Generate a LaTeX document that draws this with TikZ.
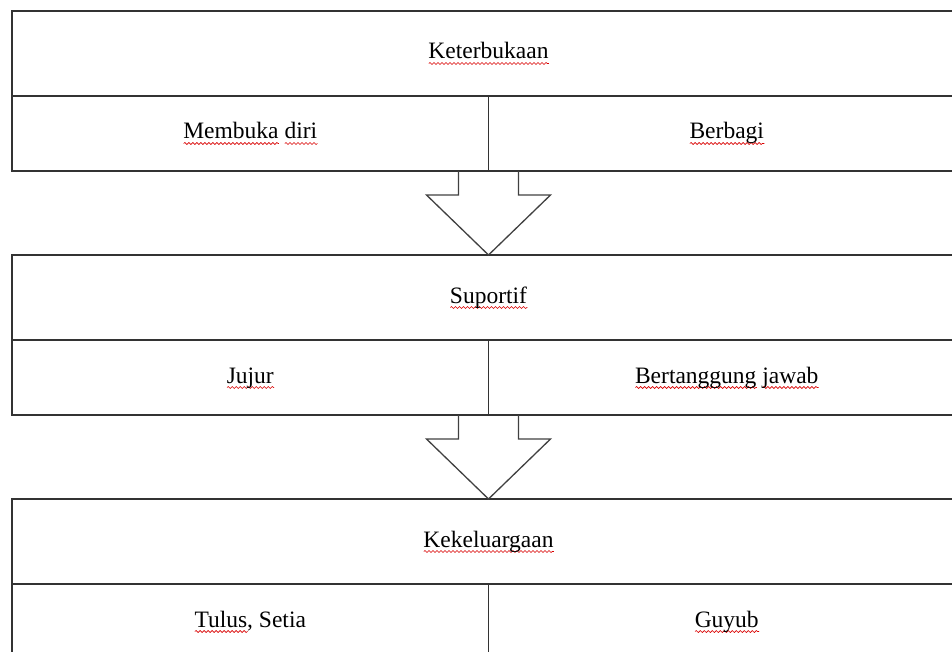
\documentclass[tikz,border=0pt]{standalone}
\usepackage{fontspec}
\setmainfont{Liberation Serif}
\usetikzlibrary{calc,decorations.pathmorphing}

\newcommand{\spell}[1]{\begingroup\setbox0\hbox{#1}%
  \rlap{\tikz[baseline=0pt, x=1cm, y=1cm]\draw[red!85!black, line width=0.6pt,
    decorate, decoration={snake, segment length=4pt, amplitude=1pt}]
    (0pt,-4.5pt) -- (\wd0,-4.5pt);}\box0\endgroup}

\tikzset{
  frame/.style={draw=black!80, line width=1.6pt, inner sep=0pt, outer sep=0pt,
    text height=15pt, text depth=4pt, font=\fontsize{23.5}{28}\selectfont},
  headcell/.style={frame, minimum width=953pt, minimum height=85pt},
  subcell/.style={frame, minimum width=476.5pt, minimum height=75pt},
  hollow/.style={draw=black!75, line width=1.3pt, line join=miter},
}

\begin{document}
\begin{tikzpicture}[x=1pt, y=-1pt]
\useasboundingbox (0,0) rectangle (952,652);
\clip (0,0) rectangle (952,652);

% first block
\node[headcell] (ket) at (488.5, 53.5) {\spell{Keterbukaan}};
\node[subcell, anchor=north west] (membuka) at (ket.south west) {\spell{Membuka} \spell{diri}};
\node[subcell, anchor=north east] (berbagi) at (ket.south east) {\spell{Berbagi}};

% second block
\node[headcell] (sup) at (488.5, 297.5) {\spell{Suportif}};
\node[subcell, anchor=north west] (jujur) at (sup.south west) {\spell{Jujur}};
\node[subcell, anchor=north east] (tanggung) at (sup.south east) {\spell{Bertanggung} \spell{jawab}};

% third block
\node[headcell] (kek) at (488.5, 541.5) {\spell{Kekeluargaan}};
\node[subcell, anchor=north west] (tulus) at (kek.south west) {\spell{Tulus}, Setia};
\node[subcell, anchor=north east] (guyub) at (kek.south east) {\spell{Guyub}};

% hollow arrows between blocks
\draw[hollow] ($(membuka.south east)+(-30,0)$) |- ($(sup.north)+(-62,-60)$)
  -- (sup.north) -- ($(sup.north)+(62,-60)$) -| ($(membuka.south east)+(30,0)$);
\draw[hollow] ($(jujur.south east)+(-30,0)$) |- ($(kek.north)+(-62,-60)$)
  -- (kek.north) -- ($(kek.north)+(62,-60)$) -| ($(jujur.south east)+(30,0)$);

\end{tikzpicture}
\end{document}
